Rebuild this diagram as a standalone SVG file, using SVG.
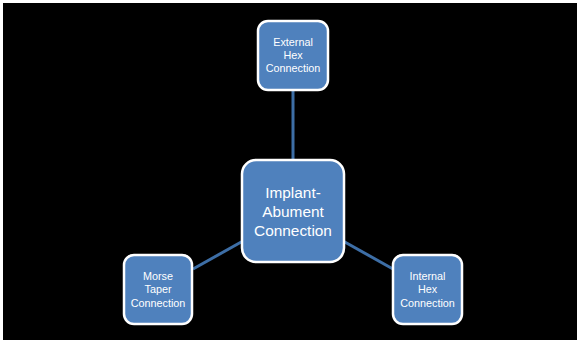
<svg xmlns="http://www.w3.org/2000/svg" width="580" height="343" viewBox="0 0 580 343">
<style>
.node rect{fill:#4f81bd;stroke:#ffffff;stroke-width:2.5}
.node text{fill:#ffffff;font-family:"Liberation Sans","Open Sans",sans-serif;text-anchor:middle}
.sm{font-size:10.8px}
.lg{font-size:15.4px}
.conn line{stroke:#3d6ea6;stroke-width:3}
</style>
<rect x="0" y="0" width="580" height="343" fill="#ffffff"/>
<rect x="3" y="3" width="574" height="337" fill="#000000"/>
<g class="conn" id="connectors">
<line x1="293" y1="90" x2="293" y2="160"/>
<line x1="193" y1="269" x2="243" y2="241"/>
<line x1="343" y1="241" x2="393" y2="269"/>
</g>
<g class="node" id="n-top">
<rect x="258" y="21" width="70" height="69" rx="10"/>
<text class="sm" x="293" y="46">External</text>
<text class="sm" x="293" y="59">Hex</text>
<text class="sm" x="293" y="72">Connection</text>
</g>
<g class="node" id="n-center">
<rect x="242" y="160" width="102" height="102" rx="14"/>
<text class="lg" x="293" y="197.5">Implant-</text>
<text class="lg" x="293" y="216.5">Abument</text>
<text class="lg" x="293" y="235.5">Connection</text>
</g>
<g class="node" id="n-left">
<rect x="124" y="255" width="68" height="69" rx="10"/>
<text class="sm" x="158" y="280">Morse</text>
<text class="sm" x="158" y="293">Taper</text>
<text class="sm" x="158" y="306.5">Connection</text>
</g>
<g class="node" id="n-right">
<rect x="393" y="255" width="69" height="69" rx="10"/>
<text class="sm" x="427.5" y="280">Internal</text>
<text class="sm" x="427.5" y="293">Hex</text>
<text class="sm" x="427.5" y="306.5">Connection</text>
</g>
</svg>
